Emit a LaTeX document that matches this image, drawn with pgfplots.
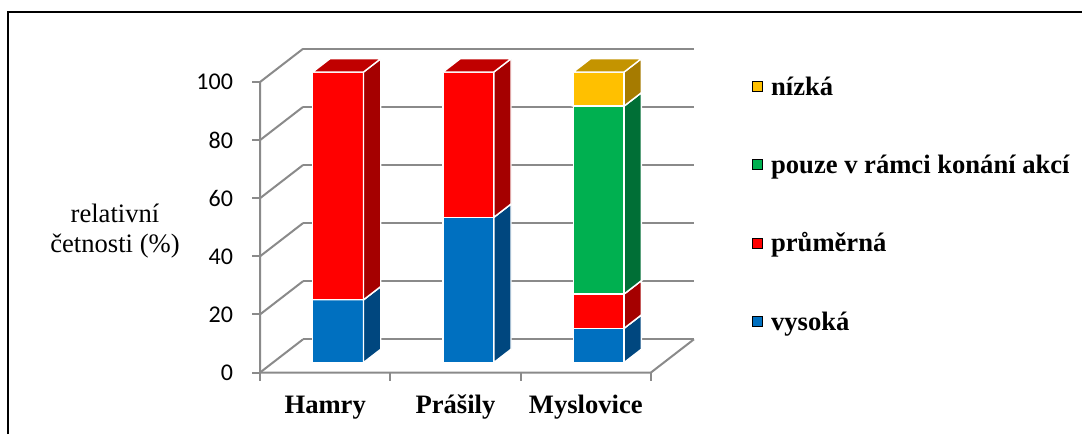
\documentclass[border=0pt]{standalone}
\usepackage{fontspec}
\setmainfont{Liberation Serif}
\newfontfamily\calibri{Carlito}
\usepackage{pgfplots}
\pgfplotsset{compat=1.18}

\definecolor{bluF}{HTML}{0070C0}
\definecolor{bluS}{HTML}{00477F}
\definecolor{redF}{HTML}{FF0000}
\definecolor{redS}{HTML}{A50000}
\definecolor{redT}{HTML}{C00000}
\definecolor{grnF}{HTML}{00B050}
\definecolor{grnS}{HTML}{006F36}
\definecolor{yelF}{HTML}{FFC000}
\definecolor{yelS}{HTML}{A67B00}
\definecolor{yelT}{HTML}{C49400}
\definecolor{gridc}{HTML}{8A8A8A}

% one stacked segment of a 3D bar: #1 category, #2 base, #3 value, #4 front, #5 side, #6 top
\newcommand\seg[6]{%
  \pgfmathsetmacro\xa{#1-0.195}%
  \pgfmathsetmacro\xb{#1+0.195}%
  \pgfmathsetmacro\zhi{#2+#3}%
  \edef\tmp{%
    \noexpand\addplot3[fill=#4,draw=white,line width=0.7pt] coordinates {(\xa,0.3,#2) (\xb,0.3,#2) (\xb,0.3,\zhi) (\xa,0.3,\zhi)} -- cycle;
    \noexpand\addplot3[fill=#5,draw=white,line width=0.7pt] coordinates {(\xb,0.3,#2) (\xb,0.7,#2) (\xb,0.7,\zhi) (\xb,0.3,\zhi)} -- cycle;
    \noexpand\addplot3[fill=#6,draw=white,line width=0.7pt] coordinates {(\xa,0.3,\zhi) (\xb,0.3,\zhi) (\xb,0.7,\zhi) (\xa,0.7,\zhi)} -- cycle;
  }\tmp
}

\begin{document}
\begin{tikzpicture}
\useasboundingbox (0,0) rectangle (541pt,217pt);
\draw[line width=1.1pt] (4pt,0pt) -- (4pt,211pt) -- (541pt,211pt);
\node[align=center, font=\fontsize{13.3}{14.75}\selectfont] at (57.5pt,101.5pt) {relativní\\četnosti (\%)};
\begin{axis}[
  at={(162.6pt,30.75pt)}, anchor=origin,
  x={(65.15pt,0pt)}, y={(21.5pt,16.6pt)}, z={(0pt,1.4525pt)},
  xmin=-0.5, xmax=2.5, ymin=0, ymax=1, zmin=0, zmax=100,
  clip=false,
  axis line style={draw=none},
  tick style={draw=none}, major tick length=0pt,
  xtick={0,1,2}, xticklabels={Hamry,Prášily,Myslovice},
  ytick=\empty,
  ztick={0,20,40,60,80,100},
  zmajorgrids,
  major grid style={draw=gridc, line width=1pt},
  /pgf/number format/assume math mode=true,
  xticklabel style={font=\bfseries\fontsize{13.3}{16}\selectfont, anchor=base, inner sep=0pt, yshift=-20.25pt},
  zticklabel style={font=\calibri\fontsize{12}{14}\selectfont, anchor=east, inner sep=0pt, xshift=-13.35pt},
  legend style={at={(axis description cs:1.1336,0.913)}, anchor=north west, draw=none, fill=none,
    inner sep=0pt, row sep=27.15pt, column sep=4pt,
    font=\bfseries\fontsize{13.3}{16}\selectfont,
    nodes={inner sep=0pt, text height=9pt, text depth=3pt}},
  legend cell align=left,
  legend image code/.code={\fill[#1] (0pt,-1pt) rectangle (5pt,4pt);},
]
\addlegendimage{fill=yelF}\addlegendentry{nízká}
\addlegendimage{fill=grnF}\addlegendentry{pouze v rámci konání akcí}
\addlegendimage{fill=redF}\addlegendentry{průměrná}
\addlegendimage{fill=bluF}\addlegendentry{vysoká}

% axis lines
\addplot3[gridc, line width=1pt, no marks] coordinates {(-0.5,0,100) (-0.5,0,0) (2.5,0,0) (2.5,1,0)};
\pgfplotsinvokeforeach{0,20,40,60,80,100}{
  \addplot3[gridc, line width=1pt, no marks] coordinates {(-0.5614,0,#1) (-0.5,0,#1)};
}
\pgfplotsinvokeforeach{-0.5,0.5,1.5,2.5}{
  \addplot3[gridc, line width=1pt, no marks] coordinates {(#1,0,0) (#1,0,-2.754)};
}

% Hamry
\seg{0}{0}{21.6}{bluF}{bluS}{bluS}
\seg{0}{21.6}{78.4}{redF}{redS}{redT}
% Prasily
\seg{1}{0}{50}{bluF}{bluS}{bluS}
\seg{1}{50}{50}{redF}{redS}{redT}
% Myslovice
\seg{2}{0}{11.8}{bluF}{bluS}{bluS}
\seg{2}{11.8}{11.8}{redF}{redS}{redT}
\seg{2}{23.6}{64.7}{grnF}{grnS}{grnS}
\seg{2}{88.3}{11.7}{yelF}{yelS}{yelT}
\end{axis}
\end{tikzpicture}
\end{document}
